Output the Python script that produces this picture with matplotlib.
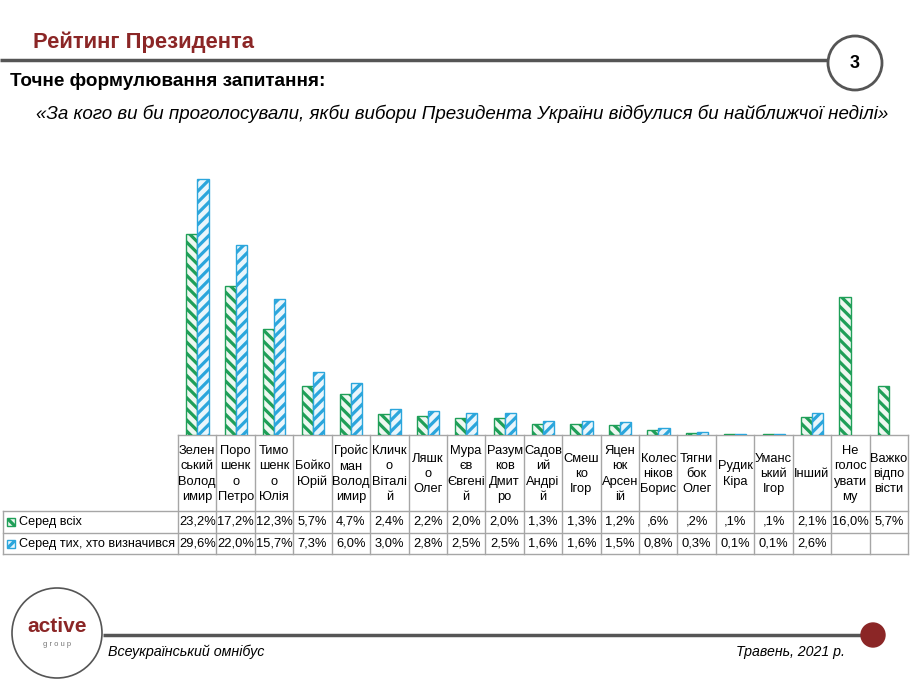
import matplotlib
matplotlib.use("Agg")
import matplotlib.pyplot as plt
import numpy as np
from matplotlib.patches import Circle, Rectangle

plt.rcParams["font.family"] = ["Liberation Sans Narrow", "Liberation Sans", "DejaVu Sans"]
plt.rcParams["hatch.linewidth"] = 2.3

# data
candidates = [
    "Зелен\nський\nВолод\nимир", "Поро\nшенк\nо\nПетро", "Тимо\nшенк\nо\nЮлія",
    "Бойко\nЮрій", "Гройс\nман\nВолод\nимир", "Кличк\nо\nВіталі\nй",
    "Ляшк\nо\nОлег", "Мура\nєв\nЄвгені\nй", "Разум\nков\nДмит\nро",
    "Садов\nий\nАндрі\nй", "Смеш\nко\nІгор", "Яцен\nюк\nАрсен\nій",
    "Колес\nніков\nБорис", "Тягни\nбок\nОлег", "Рудик\nКіра",
    "Уманс\nький\nІгор", "Інший", "Не\nголос\nувати\nму", "Важко\nвідпо\nвісти",
]
among_all = [23.2, 17.2, 12.3, 5.7, 4.7, 2.4, 2.2, 2.0, 2.0, 1.3, 1.3, 1.2,
             0.6, 0.2, 0.1, 0.1, 2.1, 16.0, 5.7]
among_decided = [29.6, 22.0, 15.7, 7.3, 6.0, 3.0, 2.8, 2.5, 2.5, 1.6, 1.6, 1.5,
                 0.8, 0.3, 0.1, 0.1, 2.6, np.nan, np.nan]
series_names = ["Серед всіх", "Серед тих, хто визначився"]

GREEN = "#1f9f58"
BLUE = "#2ba6dc"
GREEN_BG = "#eef8f1"
BLUE_BG = "#eaf6fc"
DARKRED = "#8b2626"
GRAY = "#555555"
GRID = "#a6a6a6"
HATCH_G = "\\" * 3
HATCH_B = "/" * 3

W, H = 919, 689
fig = plt.figure(figsize=(W / 100, H / 100), dpi=100)

# overlay in pixel coords
ov = fig.add_axes([0, 0, 1, 1])
ov.set_xlim(0, W)
ov.set_ylim(H, 0)
ov.axis("off")

# bar area
x0, x1 = 178, 908
base_y = 435
px_per_pct = 8.65
top_pct = 30
bx = fig.add_axes([x0 / W, (H - base_y) / H, (x1 - x0) / W, top_pct * px_per_pct / H])
bx.axis("off")
n = len(among_all)
xs = np.arange(n)
bx.set_xlim(-0.5, n - 0.5)
bx.set_ylim(0, top_pct)
bw = 0.29
bx.bar(xs - 0.14, among_all, width=bw, facecolor=GREEN_BG, edgecolor=GREEN,
       hatch=HATCH_G, linewidth=1.0)
dec = np.array(among_decided)
ok = ~np.isnan(dec)
bx.bar(xs[ok] + 0.15, dec[ok], width=bw, facecolor=BLUE_BG, edgecolor=BLUE,
       hatch=HATCH_B, linewidth=1.0)

# header
ov.text(33, 42, "Рейтинг Президента", fontsize=15.8, fontweight="bold",
        color=DARKRED, va="center", ha="left")
ov.plot([0, 829], [60, 60], color=GRAY, lw=2.5, solid_capstyle="butt")
ov.add_patch(Circle((855, 63), 27, facecolor="white", edgecolor=GRAY, lw=2, zorder=3))
ov.text(855, 64, "3", fontsize=13, fontweight="bold", ha="center", va="center", zorder=4)
ov.text(10, 82, "Точне формулювання запитання:", fontsize=13.6, fontweight="bold",
        va="center", ha="left")
ov.text(36, 114,
        "«За кого ви би проголосували, якби вибори Президента України відбулися би найближчої неділі»",
        fontsize=13.5, style="italic", va="center", ha="left")

# table
cw = (x1 - x0) / n
y_head, y_r1, y_r2, y_end = 435, 511, 533, 554
ov.plot([x0, x1], [y_head, y_head], color=GRID, lw=1)
for yy in (y_r1, y_r2, y_end):
    ov.plot([3, x1], [yy, yy], color=GRID, lw=1)
ov.plot([3, 3], [y_r1, y_end], color=GRID, lw=1)
for i in range(n + 1):
    xx = x0 + i * cw
    ov.plot([xx, xx], [y_head, y_end], color=GRID, lw=1)


def fmt(v, drop_zero):
    if np.isnan(v):
        return ""
    s = f"{v:.1f}".replace(".", ",") + "%"
    if drop_zero and s.startswith("0"):
        s = s[1:]
    return s


for i, name in enumerate(candidates):
    cx = x0 + (i + 0.5) * cw
    ov.text(cx, (y_head + y_r1) / 2 + 1, name, ha="center", va="center",
            fontsize=9.3, linespacing=1.36)
    ov.text(cx, (y_r1 + y_r2) / 2, fmt(among_all[i], True), ha="center",
            va="center", fontsize=9.3)
    ov.text(cx, (y_r2 + y_end) / 2, fmt(among_decided[i], False), ha="center",
            va="center", fontsize=9.3)

legend_faces = [GREEN_BG, BLUE_BG]
for k, (lbl, col, hat) in enumerate(zip(series_names, [GREEN, BLUE], [HATCH_G, HATCH_B])):
    yc = (y_r1 + y_r2) / 2 if k == 0 else (y_r2 + y_end) / 2
    ov.add_patch(Rectangle((7, yc - 4), 8, 8, facecolor=legend_faces[k], edgecolor=col,
                           hatch=hat, lw=1))
    ov.text(19, yc, lbl, ha="left", va="center", fontsize=9.1)

# footer
ov.plot([103, 862], [635, 635], color=GRAY, lw=2.5, solid_capstyle="butt")
ov.add_patch(Circle((873, 635), 12, facecolor=DARKRED, edgecolor=DARKRED, zorder=3))
ov.add_patch(Circle((57, 633), 45, facecolor="white", edgecolor=GRAY, lw=1.2, zorder=3))
ov.text(57, 626, "active", fontsize=15, fontweight="bold", color=DARKRED,
        ha="center", va="center", zorder=4)
ov.text(57, 645, "g r o u p", fontsize=5.5, color="#777777", ha="center",
        va="center", zorder=4)
ov.text(108, 652, "Всеукраїнський омнібус", fontsize=10.3, style="italic",
        ha="left", va="center")
ov.text(845, 652, "Травень, 2021 р.", fontsize=10.2, style="italic",
        ha="right", va="center")

fig.savefig("out.png", dpi=100)
